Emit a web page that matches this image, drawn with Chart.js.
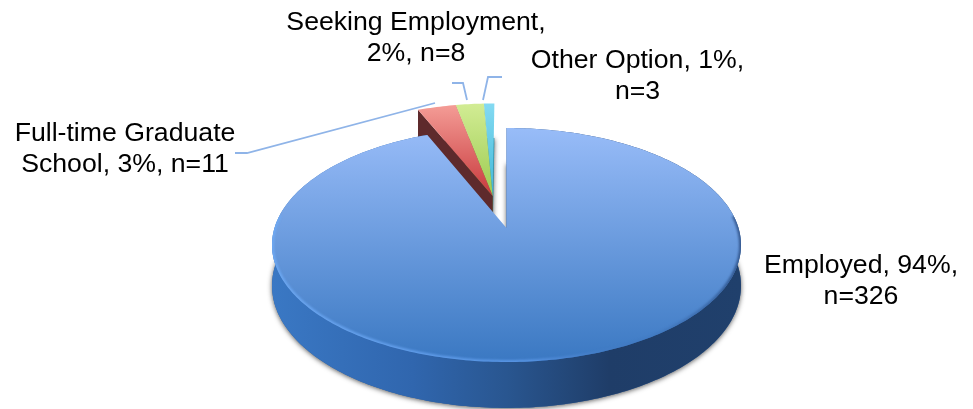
<!DOCTYPE html>
<html>
<head>
<meta charset="utf-8">
<style>
html, body { margin: 0; padding: 0; background: #fff; }
#chartBox { width: 973px; height: 409px; }
</style>
<script src="https://cdn.jsdelivr.net/npm/chart.js@4"></script>
</head>
<body>
<div id="chartBox"><canvas id="myChart" width="973" height="409"></canvas></div>
<script>
const categories = ['Employed', 'Full-time Graduate School', 'Seeking Employment', 'Other Option'];
const counts = [326, 11, 8, 3];
const percents = [94, 3, 2, 1];
const labelLines = [
    ['Employed, 94%,', 'n=326'],
    ['Full-time Graduate', 'School, 3%, n=11'],
    ['Seeking Employment,', '2%, n=8'],
    ['Other Option, 1%,', 'n=3']
];

// where each label sits, and its leader line
const labelPos = [[861, 266], [125, 134], [416, 23], [637.5, 61]];
const leaders = [
    null,
    [[235, 153], [247, 153], [435, 103]],
    [[452, 83], [463, 83], [467, 100]],
    [[502, 77], [488, 77], [483, 100]]
];

// look of the slices: [top colour, bottom colour]
const faceColors = [
    ['#98bcf8', '#3a78c2'],
    ['#f49c96', '#c8393c'],
    ['#d2ec94', '#9ccb50'],
    ['#84daf2', '#3fb8d8']
];
const sideColors = ['#2f5f9f', '#5e2a2c', '#6f8f3a', '#2a8aa0'];

// perspective of the disc
const view = { cx: 506.5, cy: 228, a: 232, b: 114.5, k: 0.1453, depth: 40, db: 5.1 };
const explode = [[0, 0], [-0.062, 0.292], [-0.062, 0.292], [-0.062, 0.292]];

function project(u, v, t) {
    let w = 1 / (1 + view.k * v);
    return [view.cx + view.a * u * w, view.cy + view.depth * t - (view.b + view.db * t) * v * w];
}

function slicePoints(arc, i, t) {
    let pts = [];
    let steps = Math.max(4, Math.ceil((arc.endAngle - arc.startAngle) * 60));
    for (let s = 0; s <= steps; s++) {
        let ang = arc.startAngle + (arc.endAngle - arc.startAngle) * s / steps;
        pts.push(project(explode[i][0] + Math.cos(ang), explode[i][1] - Math.sin(ang), t));
    }
    return pts;
}

function tracePoly(ctx, pts) {
    ctx.beginPath();
    pts.forEach((p, n) => n == 0 ? ctx.moveTo(p[0], p[1]) : ctx.lineTo(p[0], p[1]));
    ctx.closePath();
}

function apex(i, t) {
    return project(explode[i][0], explode[i][1], t);
}

function drawBase(ctx, arc, i) {
    ctx.save();
    ctx.shadowColor = 'rgba(0,0,0,0.65)';
    ctx.shadowBlur = 5;
    ctx.shadowOffsetY = 1;
    ctx.fillStyle = sideColors[i];
    tracePoly(ctx, [apex(i, 1)].concat(slicePoints(arc, i, 1)));
    ctx.fill();
    ctx.restore();
}

function drawFace(ctx, arc, i) {
    let pts = [apex(i, 0)].concat(slicePoints(arc, i, 0));
    let ys = pts.map(p => p[1]);
    let grad = ctx.createLinearGradient(0, Math.min(...ys), 0, Math.max(...ys));
    grad.addColorStop(0, faceColors[i][0]);
    grad.addColorStop(1, faceColors[i][1]);
    ctx.fillStyle = grad;
    tracePoly(ctx, pts);
    ctx.fill();
}

function drawMain(ctx, arc) {
    drawBase(ctx, arc, 0);

    // outer wall
    let top = slicePoints(arc, 0, 0);
    let bottom = slicePoints(arc, 0, 1);
    let wall = ctx.createLinearGradient(272, 0, 741, 0);
    wall.addColorStop(0, '#3a78c4');
    wall.addColorStop(0.3, '#3066ae');
    wall.addColorStop(0.5, '#295690');
    wall.addColorStop(0.72, '#1f3d68');
    wall.addColorStop(1, '#20406c');
    ctx.fillStyle = wall;
    tracePoly(ctx, top.concat(bottom.slice().reverse()));
    ctx.fill();

    drawFace(ctx, arc, 0);

    // soft bevel along the front of the rim only
    ctx.save();
    tracePoly(ctx, [apex(0, 0)].concat(top));
    ctx.clip();
    ctx.filter = 'blur(1px)';
    let rim = ctx.createLinearGradient(272, 0, 741, 0);
    rim.addColorStop(0, 'rgba(110,170,245,0.9)');
    rim.addColorStop(0.55, 'rgba(95,155,235,0.8)');
    rim.addColorStop(0.8, 'rgba(60,110,180,0.2)');
    rim.addColorStop(1, 'rgba(30,60,110,0.7)');
    ctx.strokeStyle = rim;
    ctx.lineWidth = 4;
    ctx.beginPath();
    top.filter(p => p[1] > 215).forEach((p, n) => n == 0 ? ctx.moveTo(p[0], p[1]) : ctx.lineTo(p[0], p[1]));
    ctx.stroke();
    ctx.restore();
}

const pie3d = {
    id: 'pie3d',
    beforeDatasetDraw() {
        return false; // arcs are painted below in perspective
    },
    afterDatasetsDraw(chart) {
        const ctx = chart.ctx;
        const arcs = chart.getDatasetMeta(0).data;

        // small slices stand behind the big one
        for (let i = arcs.length - 1; i > 0; i--) drawBase(ctx, arcs[i], i);
        for (let i = arcs.length - 1; i > 0; i--) {
            let edge = slicePoints(arcs[i], i, 0)[0];
            let edgeLow = slicePoints(arcs[i], i, 1)[0];
            ctx.fillStyle = sideColors[i];
            tracePoly(ctx, [apex(i, 0), edge, edgeLow, apex(i, 1)]);
            ctx.fill();
        }
        for (let i = arcs.length - 1; i > 0; i--) drawFace(ctx, arcs[i], i);
        drawMain(ctx, arcs[0]);

        // leader lines
        ctx.strokeStyle = '#8fb4e8';
        ctx.lineWidth = 1.8;
        leaders.forEach(line => {
            if (!line) return;
            ctx.beginPath();
            line.forEach((p, n) => n == 0 ? ctx.moveTo(p[0], p[1]) : ctx.lineTo(p[0], p[1]));
            ctx.stroke();
        });

        // data labels
        ctx.fillStyle = '#000';
        ctx.font = '26.67px "Liberation Sans"';
        ctx.textAlign = 'center';
        ctx.textBaseline = 'middle';
        labelLines.forEach((lines, i) => {
            lines.forEach((txt, n) => ctx.fillText(txt, labelPos[i][0], labelPos[i][1] + n * 31));
        });
    }
};

new Chart(document.getElementById('myChart'), {
    type: 'pie',
    data: {
        labels: categories,
        datasets: [{
            data: counts,
            backgroundColor: faceColors.map(c => c[0]),
            borderWidth: 0
        }]
    },
    options: {
        responsive: false,
        animation: false,
        plugins: {
            legend: { display: false },
            tooltip: { enabled: false }
        }
    },
    plugins: [pie3d]
});
</script>
</body>
</html>
